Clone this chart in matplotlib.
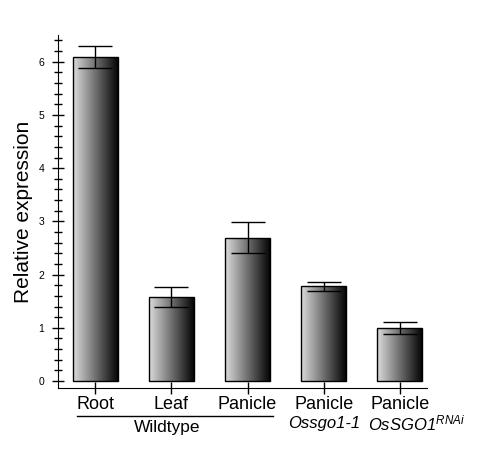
import numpy as np
import matplotlib.pyplot as plt
from matplotlib.ticker import MultipleLocator
from matplotlib.transforms import blended_transform_factory

plt.rcParams['font.family'] = ['Liberation Sans', 'DejaVu Sans']
plt.rcParams['mathtext.fontset'] = 'custom'
plt.rcParams['mathtext.rm'] = 'Liberation Sans'
plt.rcParams['mathtext.it'] = 'Liberation Sans:italic'

tissues = ["Root", "Leaf", "Panicle", "Panicle", "Panicle"]
expression = [6.09, 1.58, 2.69, 1.78, 0.99]
errors = [0.20, 0.19, 0.29, 0.085, 0.115]

fig = plt.figure(figsize=(4.8, 4.5), dpi=100)
ax = fig.add_axes([0.121, 0.1378, 0.769, 0.7842])

x = np.arange(len(tissues))
bars = ax.bar(x, expression, width=0.59, facecolor="none", edgecolor="black", linewidth=1, zorder=3)

# grey -> black gradient inside each bar
grad = np.linspace(0.86, 0.02, 256).reshape(1, -1)
for b in bars:
    im = ax.imshow(grad, cmap="gray", vmin=0, vmax=1, aspect="auto",
                   extent=[b.get_x(), b.get_x() + b.get_width(), 0, b.get_height()],
                   interpolation="bilinear", zorder=2)
    im.set_clip_path(b)

ax.errorbar(x, expression, yerr=errors, fmt="none", ecolor="black", elinewidth=1,
            capsize=12.5, capthick=1, zorder=4)

ax.set_xlim(-0.49, 4.36)
ax.set_ylim(-0.13, 6.5)
ax.spines["top"].set_visible(False)
ax.spines["right"].set_visible(False)

ax.yaxis.set_major_locator(MultipleLocator(1))
ax.yaxis.set_minor_locator(MultipleLocator(0.2))
ax.tick_params(axis="y", which="major", direction="inout", length=8, width=1, labelsize=7.5, pad=6)
ax.tick_params(axis="y", which="minor", direction="inout", length=6, width=1)
ax.set_xticks(x)
ax.set_xticklabels(tissues, fontsize=13)
ax.tick_params(axis="x", direction="inout", length=8, width=1, pad=2)

ax.set_ylabel("Relative expression", fontsize=15)
ax.yaxis.set_label_coords(-0.068, 0.5)

trans = blended_transform_factory(ax.transData, ax.transAxes)
ax.plot([-0.24, 2.34], [-0.078, -0.078], color="black", lw=1, transform=trans, clip_on=False)
ax.text(0.94, -0.113, "Wildtype", fontsize=12.5, ha="center", va="center", transform=trans)
ax.text(3, -0.10, "Ossgo1-1", fontsize=12, style="italic", ha="center", va="center", transform=trans)
ax.text(3.585, -0.10, "OsSGO1$^{RNAi}$", fontsize=12, style="italic", ha="left", va="center",
        transform=trans)

fig.savefig("out.png", dpi=100)
